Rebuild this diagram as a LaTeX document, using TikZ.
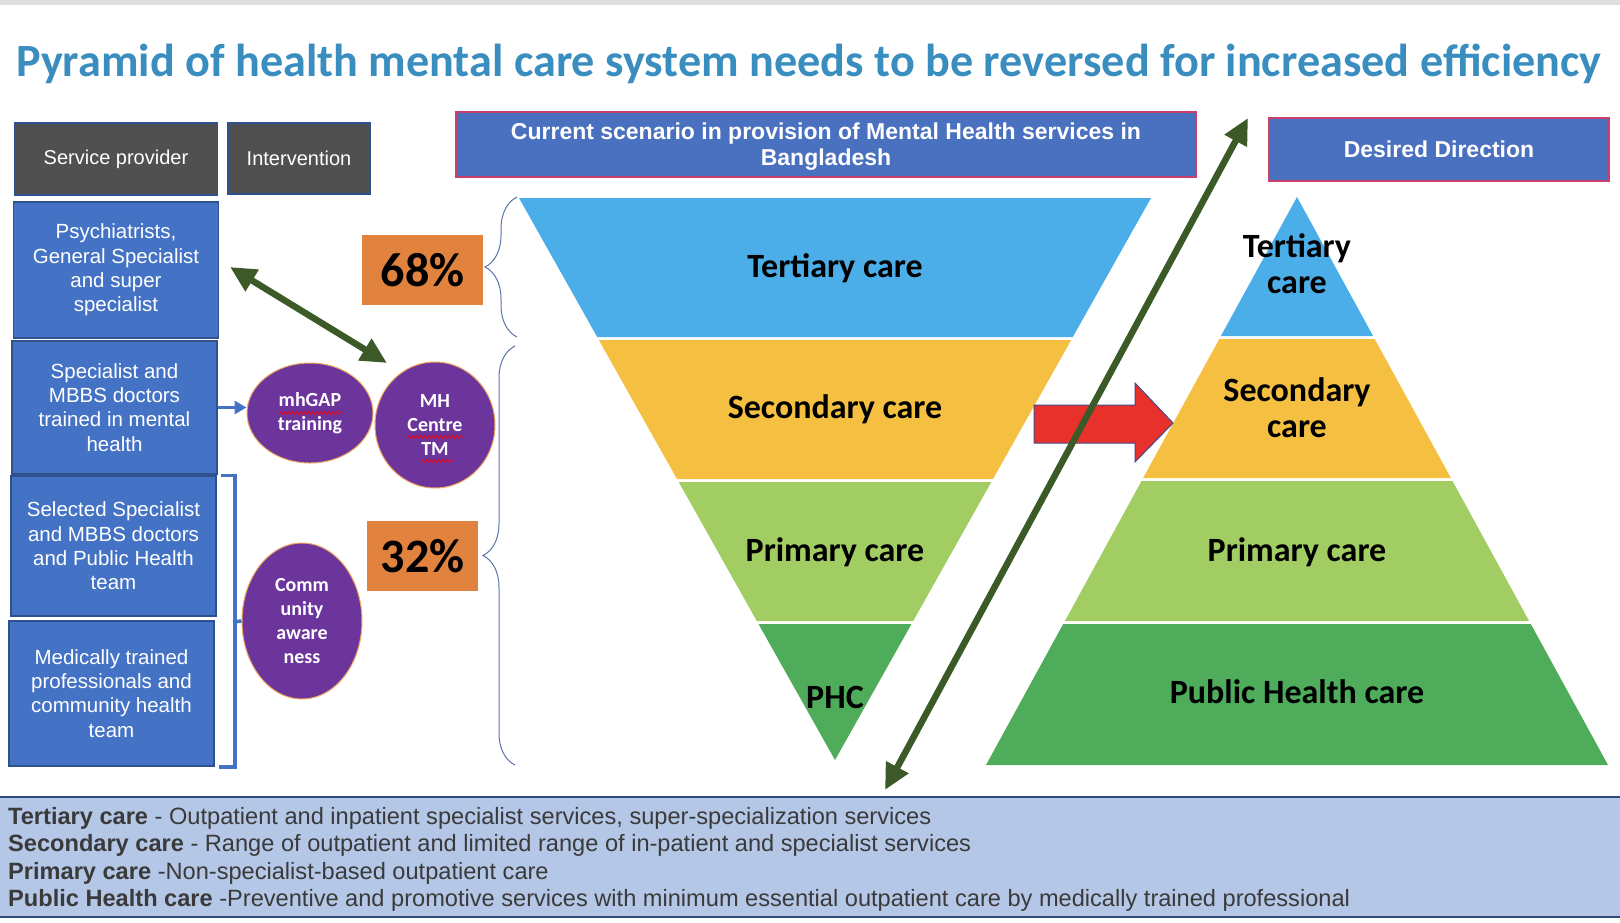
\documentclass[tikz,border=0pt]{standalone}
\usepackage{fontspec}
\setmainfont{Liberation Sans}
\newfontfamily\calibri{Carlito}
\usetikzlibrary{shapes.geometric,arrows.meta,decorations.pathreplacing,decorations.pathmorphing}

\definecolor{titleblue}{HTML}{3A8DBF}
\definecolor{boxblue}{HTML}{4472C4}
\definecolor{boxedge}{HTML}{2F528F}
\definecolor{headgray}{HTML}{505050}
\definecolor{bannerblue}{HTML}{4A70C0}
\definecolor{bannerrim}{HTML}{C8406A}
\definecolor{tertblue}{HTML}{4BAEE8}
\definecolor{secyellow}{HTML}{F5BF42}
\definecolor{primgreen}{HTML}{A2CD62}
\definecolor{phcgreen}{HTML}{4EAC5B}
\definecolor{bubblepurple}{HTML}{6C359C}
\definecolor{bubblerim}{HTML}{F0A860}
\definecolor{pctorange}{HTML}{E2823F}
\definecolor{olivearrow}{HTML}{3B5A27}
\definecolor{redarrow}{HTML}{E8312A}
\definecolor{redrim}{HTML}{3F4B8C}
\definecolor{notefill}{HTML}{B4C7E7}
\definecolor{noterim}{HTML}{2F4B7C}
\definecolor{notetext}{HTML}{3A3A3A}
\definecolor{bracecol}{HTML}{5A74AA}

\begin{document}
\begin{tikzpicture}[x=1pt,y=-1pt,
  headbox/.style={draw=boxedge,line width=1.5pt,fill=headgray,text=white,
                  font=\fontsize{20}{24}\selectfont,inner sep=0pt},
  provbox/.style={draw=boxedge,line width=1.5pt,fill=boxblue,text=white,align=center,
                  font=\fontsize{20.5}{24.3}\selectfont,inner sep=0pt,minimum width=205pt},
  bannerbox/.style={draw=bannerrim,line width=2pt,fill=bannerblue,text=white,align=center,
                  font=\bfseries\fontsize{23}{26}\selectfont,inner sep=0pt},
  bubble/.style={ellipse,draw=bubblerim,line width=1pt,fill=bubblepurple,text=white,align=center,
                  font=\calibri\bfseries\fontsize{20}{24}\selectfont,inner sep=0pt},
  pctbox/.style={fill=pctorange,font=\calibri\bfseries\fontsize{48}{50}\selectfont,
                  minimum height=70pt,inner sep=0pt},
  tier/.style={font=\calibri\bfseries\fontsize{34}{36}\selectfont,align=center,inner sep=0pt},
  arr/.style={-{Triangle[length=12pt,width=13pt]},line width=3.5pt,draw=boxblue},
  dblarr/.style={{Triangle[length=26pt,width=24pt]}-{Triangle[length=26pt,width=24pt]},
                  line width=6.5pt,draw=olivearrow},
  brace/.style={decorate,decoration={brace,amplitude=32pt},draw=bracecol,line width=1pt},
  squiggle/.style={decorate,decoration={snake,segment length=4pt,amplitude=1.2pt},
                  draw=red,line width=0.8pt},
]
\useasboundingbox (0,0) rectangle (1620,922);

% Title
\fill[gray!25] (0,0) rectangle (1620,5);
\node[font=\calibri\bfseries\fontsize{46.2}{50}\selectfont,text=titleblue,anchor=base] (title) at (809,76)
  {Pyramid of health mental care system needs to be reversed for increased efficiency};

% Headers
\node[headbox,minimum width=203pt,minimum height=72pt] (svc) at (116,159) {Service provider};
\node[headbox,minimum width=142pt,minimum height=71pt] (intv) at (299,158.5) {Intervention};
\node[bannerbox,minimum width=740pt,minimum height=65pt,text depth=0pt] (scen) at (826,144.5)
  {Current scenario in provision of Mental Health services in\\Bangladesh};
\node[bannerbox,minimum width=340pt,minimum height=63pt] (desired) at (1439,149.5) {Desired Direction};

% Service providers
\node[provbox,minimum height=136pt] (psych) at (116,270)
  {Psychiatrists,\\General Specialist\\and super\\specialist};
\node[provbox,minimum height=133pt] (spec) at (114.5,407.5)
  {Specialist and\\MBBS doctors\\trained in mental\\health};
\node[provbox,minimum height=140pt] (sel) at (113.5,546)
  {Selected Specialist\\and MBBS doctors\\and Public Health\\team};
\node[provbox,minimum height=145pt] (med) at (111.5,693.5)
  {Medically trained\\professionals and\\community health\\team};

% Interventions
\node[bubble,minimum width=126pt,minimum height=100pt] (mhgap) at (310,413) {mhGAP\\training};
\node[bubble,minimum width=120pt,minimum height=126pt] (mhc) at (435,425) {MH\\Centre\\TM};
\node[bubble,minimum width=120pt,minimum height=156pt] (comm) at (302,621) {Comm\\unity\\aware\\ness};

\draw[squiggle] (279,413) -- (342,413);
\draw[squiggle] (407,437) -- (463,437);
\draw[squiggle] (421,461) -- (453,461);

% Bracket for the two lower providers
\draw[line width=3.5pt,draw=boxblue] ([xshift=4pt]sel.north east) -- ++(14,0)
  |- ([xshift=4pt]med.south east);
\draw[line width=3.5pt,draw=boxblue] (233,622) -- (comm.west);

\draw[arr] (spec.east) -- (spec.east -| mhgap.west);

% Shares
\node[pctbox,minimum width=121pt] (p68) at (422.5,270) {68\%\hspace{10pt}};
\node[pctbox,minimum width=111pt] (p32) at (422.5,556) {32\%\hspace{4pt}};
\draw[brace] (517,337) -- (517,197);
\draw[brace] (515,765) -- (515,346);

% Current (inverted) pyramid
\fill[tertblue] (519,198) -- (1151,198) -- (1072.8,337) -- (597.2,337) -- cycle;
\fill[secyellow] (598.8,340) -- (1071.2,340) -- (993,479) -- (677,479) -- cycle;
\fill[primgreen] (678.7,482) -- (991.3,482) -- (913.2,621) -- (756.8,621) -- cycle;
\fill[phcgreen] (758.5,624) -- (911.5,624) -- (835,760) -- cycle;
\node[tier,anchor=base] (curtert) at (835,277) {Tertiary care};
\node[tier,anchor=base] (cursec) at (835,418) {Secondary care};
\node[tier,anchor=base] (curprim) at (835,561) {Primary care};
\node[tier,anchor=base] (curphc) at (835,708) {PHC};

% Desired pyramid
\fill[tertblue] (1297,197) -- (1373.1,336) -- (1220.9,336) -- cycle;
\fill[secyellow] (1219.3,339) -- (1374.7,339) -- (1450.9,478) -- (1143.1,478) -- cycle;
\fill[primgreen] (1141.5,481) -- (1452.5,481) -- (1529.1,621) -- (1064.9,621) -- cycle;
\fill[phcgreen] (1063.2,624) -- (1530.8,624) -- (1608,765) -- (986,765) -- cycle;
\node[tier] (destert) at (1297,264) {Tertiary\\care};
\node[tier] (dessec) at (1297,407.5) {Secondary\\care};
\node[tier,anchor=base] (desprim) at (1297,561) {Primary care};
\node[tier,anchor=base] (despub) at (1297,703) {Public Health care};

% Shift arrow
\draw[fill=redarrow,draw=redrim,line width=1pt] (1034,405) -- (1135,405) -- (1135,383)
  -- (1173,423) -- (1135,462) -- (1135,443) -- (1034,443) -- cycle;

% Reversal arrows
\coordinate (psychtip) at (230,267);
\coordinate (mhctip) at (387,363);
\draw[dblarr] (psychtip) -- (mhctip);
\coordinate (revlow) at (885,790);
\coordinate (revhigh) at (1248,118);
\draw[dblarr] (revlow) -- (revhigh);

% Definitions
\draw[fill=notefill,draw=noterim,line width=2.5pt] (-5,797) rectangle (1625,917);
\node[anchor=north west,inner sep=0pt,align=left,text=notetext,
      font=\fontsize{23.6}{27.5}\selectfont] (notes) at (8,807)
  {\textbf{Tertiary care} - Outpatient and inpatient specialist services, super-specialization services\\
   \textbf{Secondary care} - Range of outpatient and limited range of in-patient and specialist services\\
   \textbf{Primary care} -Non-specialist-based outpatient care\\
   \textbf{Public Health care} -Preventive and promotive services with minimum essential outpatient care by medically trained professional};

\end{tikzpicture}
\end{document}
